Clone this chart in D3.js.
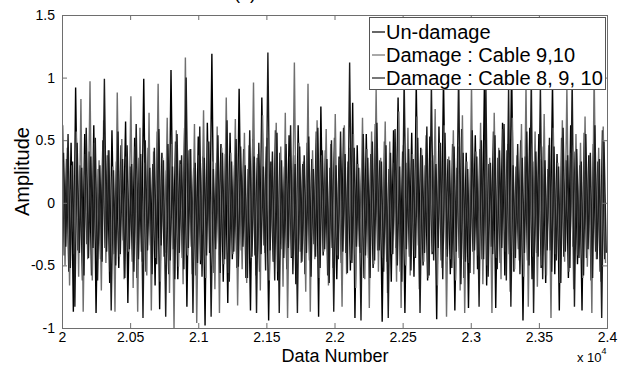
<!DOCTYPE html>
<html>
<head>
<meta charset="utf-8">
<script src="https://cdn.jsdelivr.net/npm/d3@7"></script>
<style>
  body { margin: 0; background: #fff; }
  svg { display: block; font-family: "Liberation Sans", Arial, Helvetica, sans-serif; }
</style>
</head>
<body>
<svg id="main-svg" width="624" height="366"></svg>
<script>
// x axis covers data numbers 20000..24000, each series is a run of alternating peaks / troughs
const xStart = 20000;
const xEnd = 24000;
const xTicks = [20000, 20500, 21000, 21500, 22000, 22500, 23000, 23500, 24000];
const yTicks = [-1, -0.5, 0, 0.5, 1, 1.5];

const seriesNames = ["Un-damage", "Damage : Cable 9,10", "Damage : Cable 8, 9, 10"];

const unDamage = [
  0.80,-0.42, 0.35,-0.55, 0.48,-0.87, 0.92,-0.38, 0.30,-0.62, 0.55,-0.33, 0.41,-0.58, 0.62,-0.88, 0.27,-0.45, 0.50,-0.36,
  0.38,-0.64, 0.58,-0.41, 0.33,-0.52, 0.46,-0.30, 0.65,-0.80, 0.29,-0.47, 0.52,-0.60, 0.36,-0.39, 0.99,-0.55, 0.44,-0.34,
  0.31,-0.66, 0.57,-0.85, 0.40,-0.43, 0.26,-0.57, 1.06,-0.37, 0.49,-0.61, 0.34,-0.44, 0.60,-0.83, 0.42,-0.35, 0.28,-0.58,
  0.53,-0.49, 0.37,-0.98, 0.64,-0.40, 1.19,-0.56, 0.32,-0.33, 0.47,-0.63, 0.39,-0.80, 0.56,-0.45, 0.30,-0.52, 0.91,-0.38,
  0.43,-0.60, 0.27,-0.86, 0.51,-0.42, 0.36,-0.55, 0.84,-0.34, 0.45,-0.94, 0.33,-0.47, 0.58,-0.62, 0.40,-0.37, 0.29,-0.53,
  0.54,-0.44, 0.38,-0.65, 0.62,-0.39, 0.31,-0.57, 0.48,-0.46, 0.35,-0.33, 0.57,-0.91, 0.77,-0.42, 0.42,-0.58, 0.28,-0.36,
  0.52,-0.61, 0.37,-0.48, 0.60,-0.40, 0.33,-0.54, 0.80,-0.92, 0.46,-0.35, 0.30,-0.60, 0.55,-0.44, 0.39,-0.52, 0.63,-0.38,
  0.34,-0.95, 0.49,-0.47, 0.27,-0.63, 0.58,-0.36, 0.84,-0.55, 0.41,-0.88, 0.32,-0.43, 0.56,-0.59, 0.95,-0.34, 0.44,-0.50,
  0.30,-0.62, 0.53,-0.41, 0.38,-0.93, 0.61,-0.46, 1.00,-0.37, 0.35,-0.57, 0.47,-0.86, 0.28,-0.44, 0.59,-0.60, 0.40,-0.84,
  0.33,-0.39, 0.54,-0.53, 0.43,-0.45, 0.93,-0.66, 0.31,-0.35, 0.57,-0.84, 0.36,-0.48, 0.64,-0.58, 0.42,-0.41, 1.10,-0.55,
  0.29,-0.37, 0.50,-0.94, 0.37,-0.46, 0.60,-0.61, 0.33,-0.40, 0.55,-0.52, 0.45,-0.64, 0.27,-0.38, 0.95,-0.57, 0.39,-0.86,
  0.52,-0.43, 0.34,-0.60, 0.62,-0.35, 0.41,-0.49, 0.30,-0.86, 0.56,-0.44, 0.38,-0.62, 0.47,-0.39, 0.33,-0.55, 0.58,-0.45
];

const damage910 = [
  0.62,-0.50, 0.44,-0.66, 0.30,-0.41, 0.57,-0.59, 0.83,-0.87, 0.39,-0.45, 0.97,-0.62, 0.48,-0.37, 0.34,-0.70, 0.66,-0.48,
  0.42,-0.55, 0.29,-0.87, 0.88,-0.43, 0.51,-0.61, 0.37,-0.39, 0.85,-0.68, 0.45,-0.87, 0.60,-0.47, 0.32,-0.58, 0.72,-0.86,
  0.41,-0.44, 0.95,-0.63, 0.36,-0.40, 0.68,-0.72, 0.47,-1.00, 0.58,-0.51, 0.31,-0.65, 1.16,-0.42, 0.43,-0.57, 0.63,-0.96,
  0.38,-0.46, 0.74,-0.60, 0.49,-0.38, 0.33,-0.69, 0.61,-0.88, 0.44,-0.49, 0.84,-0.56, 0.40,-0.41, 0.67,-0.82, 0.35,-0.53,
  0.56,-0.64, 0.46,-0.44, 0.96,-0.58, 0.39,-0.70, 0.70,-0.40, 0.52,-0.62, 0.30,-0.47, 0.64,-0.55, 0.45,-0.67, 0.72,-0.92,
  0.37,-0.43, 1.12,-0.59, 0.48,-0.48, 0.33,-0.71, 0.95,-0.87, 0.42,-0.45, 0.66,-0.60, 0.38,-0.39, 0.59,-0.66, 0.47,-0.52,
  0.71,-0.42, 0.35,-0.83, 0.62,-0.57, 0.44,-0.46, 0.55,-0.68, 0.31,-0.40, 0.68,-0.61, 0.43,-0.84, 0.57,-0.49, 0.90,-0.55,
  0.36,-0.44, 0.65,-0.72, 0.49,-0.41, 0.32,-0.63, 0.73,-0.84, 0.46,-0.50, 0.60,-0.58, 0.39,-0.43, 0.69,-0.69, 0.43,-0.47,
  0.54,-0.60, 0.34,-0.39, 0.75,-0.66, 0.48,-0.52, 0.62,-0.91, 0.37,-0.45, 0.58,-0.62, 0.45,-0.70, 0.70,-0.88, 0.33,-0.48,
  0.95,-0.57, 0.41,-0.42, 0.64,-0.65, 0.50,-0.50, 0.36,-0.88, 0.72,-0.44, 0.44,-0.61, 0.59,-0.39, 0.47,-0.71, 0.68,-0.53,
  0.38,-0.46, 0.63,-0.59, 0.95,-0.83, 0.42,-0.43, 0.57,-0.67, 0.35,-0.50, 0.71,-0.58, 0.46,-0.92, 0.60,-0.41, 0.32,-0.64,
  0.66,-0.47, 0.92,-0.55, 0.40,-0.69, 0.55,-0.42, 0.48,-0.60, 0.69,-0.51, 0.37,-0.88, 1.05,-0.45, 0.44,-0.63, 0.61,-0.48
];

const damage8910 = [
  0.40,-0.35, 0.55,-0.52, 0.33,-0.83, 0.48,-0.40, 0.28,-0.58, 0.60,-0.44, 0.37,-0.36, 0.52,-0.62, 0.30,-0.47, 0.99,-0.39,
  0.42,-0.86, 0.26,-0.50, 0.57,-0.41, 0.35,-0.60, 0.46,-0.37, 0.31,-0.55, 0.63,-0.45, 0.39,-0.92, 0.50,-0.38, 0.28,-0.57,
  0.44,-0.49, 0.59,-0.34, 0.34,-0.91, 0.47,-0.46, 0.29,-0.61, 0.55,-0.40, 0.38,-0.53, 1.00,-0.36, 0.43,-0.88, 0.32,-0.48,
  0.61,-0.59, 0.36,-0.42, 0.49,-0.91, 0.27,-0.37, 0.54,-0.56, 0.40,-0.45, 0.66,-0.63, 0.33,-0.39, 0.51,-0.51, 0.45,-0.35,
  0.30,-0.60, 0.58,-0.43, 0.37,-0.88, 0.48,-0.41, 0.29,-0.54, 1.20,-0.38, 0.41,-0.62, 0.56,-0.88, 0.34,-0.44, 0.47,-0.36,
  0.62,-0.57, 0.31,-0.88, 0.45,-0.47, 0.38,-0.40, 0.53,-0.59, 0.27,-0.43, 0.60,-0.52, 0.42,-0.37, 0.35,-0.64, 0.50,-0.87,
  0.30,-0.45, 0.57,-0.39, 0.39,-0.56, 1.12,-0.48, 0.44,-0.35, 0.28,-0.94, 0.55,-0.42, 0.36,-0.60, 0.49,-0.46, 0.64,-0.38,
  0.33,-0.55, 0.46,-0.92, 0.40,-0.41, 0.59,-0.50, 0.29,-0.63, 1.00,-0.37, 0.43,-0.54, 0.35,-0.44, 0.52,-0.88, 0.38,-0.40,
  0.61,-0.58, 0.95,-0.46, 0.31,-0.36, 0.48,-0.61, 0.56,-0.43, 0.34,-0.52, 0.45,-0.39, 1.05,-0.65, 0.40,-0.47, 0.27,-0.56,
  0.58,-0.38, 0.37,-0.83, 0.50,-0.45, 0.93,-0.59, 0.32,-0.41, 0.54,-0.53, 0.42,-0.36, 0.63,-0.62, 0.92,-0.83, 0.30,-0.44,
  0.47,-0.57, 0.36,-0.40, 0.57,-0.50, 1.00,-0.88, 0.41,-0.43, 0.93,-0.61, 0.34,-0.38, 0.52,-0.55, 0.45,-0.46, 0.29,-0.64,
  0.60,-0.39, 0.38,-0.52, 0.98,-0.83, 0.43,-0.44, 0.33,-0.58, 0.55,-0.37, 0.40,-0.60, 0.62,-0.45, 0.35,-0.92, 0.49,-0.40
];

const seriesData = [unDamage, damage910, damage8910];
const seriesColors = ["#000000", "#6f6f6f", "#1c1c1c"];

const margin = {top: 15, right: 17, bottom: 38, left: 62};
const width = 624, height = 366;

const svg = d3.select("#main-svg");

const x = d3.scaleLinear().domain([xStart, xEnd]).range([margin.left, width - margin.right]);
const y = d3.scaleLinear().domain([-1, 1.5]).range([height - margin.bottom, margin.top]);

svg.append("defs").append("clipPath").attr("id", "plot-clip")
  .append("rect")
  .attr("x", x(xStart)).attr("y", y(1.5))
  .attr("width", x(xEnd) - x(xStart)).attr("height", y(-1) - y(1.5));

// traces, drawn in legend order so the last one sits on top
// each extremum is one step apart, the series are staggered by a third of a step
const plot = svg.append("g").attr("clip-path", "url(#plot-clip)");
seriesData.forEach((vals, k) => {
  const step = (xEnd - xStart) / vals.length;
  const line = d3.line()
    .x((d, i) => x(xStart + (i + k / 3) * step))
    .y(d => y(d));
  plot.append("path")
    .datum(vals)
    .attr("fill", "none")
    .attr("stroke", seriesColors[k])
    .attr("stroke-width", 1.4)
    .attr("stroke-linejoin", "miter")
    .attr("d", line);
});

// axes, MATLAB style box with inward ticks
const axisColor = "#6e6e6e";
const fmtX = d => String(+(d / 1e4).toFixed(2));

const gBottom = svg.append("g")
  .attr("transform", `translate(0,${y(-1)})`)
  .call(d3.axisBottom(x).tickValues(xTicks).tickSize(-5).tickPadding(4).tickFormat(fmtX));
const gTop = svg.append("g")
  .attr("transform", `translate(0,${y(1.5)})`)
  .call(d3.axisTop(x).tickValues(xTicks).tickSize(-5).tickFormat(""));
const gLeft = svg.append("g")
  .attr("transform", `translate(${x(xStart)},0)`)
  .call(d3.axisLeft(y).tickValues(yTicks).tickSize(-5).tickPadding(7).tickFormat(d => String(d)));
const gRight = svg.append("g")
  .attr("transform", `translate(${x(xEnd)},0)`)
  .call(d3.axisRight(y).tickValues(yTicks).tickSize(-5).tickFormat(""));

[gBottom, gTop, gLeft, gRight].forEach(g => {
  g.select(".domain").attr("stroke", axisColor).attr("stroke-width", 1);
  g.selectAll(".tick line").attr("stroke", axisColor);
  g.selectAll(".tick text").attr("fill", "#000").attr("font-size", 14)
    .attr("font-family", "'Liberation Sans', Arial, sans-serif");
});

// axis titles
svg.append("text")
  .attr("x", 335).attr("y", 361.5)
  .attr("text-anchor", "middle")
  .attr("font-size", 18)
  .text("Data Number");

svg.append("text")
  .attr("transform", `translate(29,${y(0.25)}) rotate(-90)`)
  .attr("text-anchor", "middle")
  .attr("font-size", 20)
  .text("Amplitude");

const expo = svg.append("text")
  .attr("x", 577).attr("y", 362)
  .attr("font-size", 13);
expo.append("tspan").text("x 10");
expo.append("tspan").attr("dy", -8).attr("font-size", 9).text("4");

// title, mostly cut off by the top edge like in the source figure
svg.append("text")
  .attr("x", 245).attr("y", -1)
  .attr("text-anchor", "middle")
  .attr("font-size", 18)
  .text("(a)");

// legend
const legend = svg.append("g");
legend.append("rect")
  .attr("x", 369.5).attr("y", 17.5)
  .attr("width", 236).attr("height", 72)
  .attr("fill", "#fff")
  .attr("stroke", "#555");

seriesNames.forEach((name, k) => {
  const ly = 32 + k * 23;
  legend.append("line")
    .attr("x1", 372).attr("x2", 385)
    .attr("y1", ly).attr("y2", ly)
    .attr("stroke", seriesColors[k]).attr("stroke-width", 1.2);
  legend.append("text")
    .attr("x", 386).attr("y", ly + 7)
    .attr("font-size", 20)
    .text(name);
});
</script>
</body>
</html>
